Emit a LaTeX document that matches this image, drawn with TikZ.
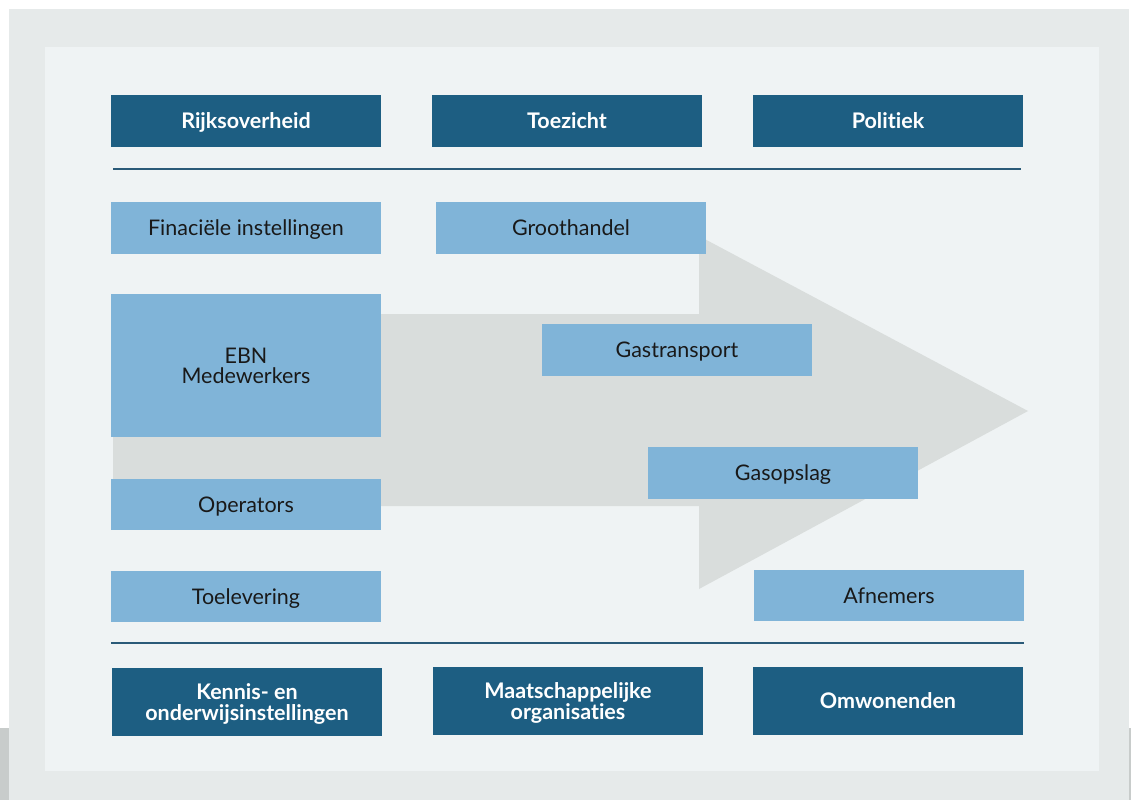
\documentclass[tikz,border=0pt]{standalone}
\usepackage{fontspec}
\setmainfont[Ligatures={NoCommon,NoRare}]{Lato}
\definecolor{outergray}{HTML}{E6EAEA}
\definecolor{panel}{HTML}{EFF3F4}
\definecolor{darkblue}{HTML}{1D5E82}
\definecolor{lightblue}{HTML}{80B4D8}
\definecolor{arrowgray}{HTML}{D9DDDC}
\definecolor{stripgray}{HTML}{C8CCCB}
\definecolor{linecol}{HTML}{2A5A78}
\tikzset{
  dbox/.style={fill=darkblue, text=white, font=\bfseries\fontsize{21.5}{21.4}\selectfont, align=center, inner sep=0pt, minimum width=270pt, minimum height=52pt, text height=15.8pt, text depth=0pt},
  lbox/.style={fill=lightblue, text=black!90, font=\fontsize{21.5}{19.7}\selectfont, align=center, inner sep=0pt, minimum width=270pt, minimum height=52pt, text height=15.8pt, text depth=0pt},
  sepline/.style={draw=linecol, line width=1.2pt}
}
\begin{document}
\begin{tikzpicture}[x=1pt,y=-1pt]
\useasboundingbox (0,0) rectangle (1131,800);
\fill[white] (0,0) rectangle (1131,800);
\fill[outergray] (9,9) rectangle (1129,800);
\fill[stripgray] (0,728) rectangle (9,800);
\fill[stripgray] (1129,728) rectangle (1131,800);
\fill[panel] (45,47) rectangle (1099,771);
% arrow
\fill[arrowgray] (113,314) -- (699,314) -- (699,236) -- (1028,411) -- (699,589) -- (699,506) -- (113,506) -- cycle;
% separators
\draw[sepline] (113,169) -- (1021,169);
\draw[sepline] (111,643) -- (1024,643);
% top row
\node[dbox] (rijk) at (246,121) {Rijksoverheid};
\node[dbox] (toez) at (567,121) {Toezicht};
\node[dbox] (poli) at (888,121) {Politiek};
% middle
\node[lbox] (fin) at (246,228) {Finaciële instellingen};
\node[lbox] (groot) at (571,228) {Groothandel};
\node[lbox, minimum height=143pt, text height=35.5pt] (ebn) at (246,365.5) {EBN\\Medewerkers};
\node[lbox, minimum height=51pt] (oper) at (246,504.5) {Operators};
\node[lbox, minimum height=51pt] (toel) at (246,596.5) {Toelevering};
\node[lbox] (gastr) at (677,350) {Gastransport};
\node[lbox] (gasop) at (783,473) {Gasopslag};
\node[lbox, minimum height=51pt] (afn) at (889,595.5) {Afnemers};
% bottom row
\node[dbox, minimum height=68pt, text height=37.2pt] (kenn) at (247,702) {Kennis- en\\onderwijsinstellingen};
\node[dbox, minimum height=68pt, text height=37.2pt] (maat) at (568,701) {Maatschappelijke\\organisaties};
\node[dbox, minimum height=68pt] (omw) at (888,701) {Omwonenden};
\end{tikzpicture}
\end{document}
